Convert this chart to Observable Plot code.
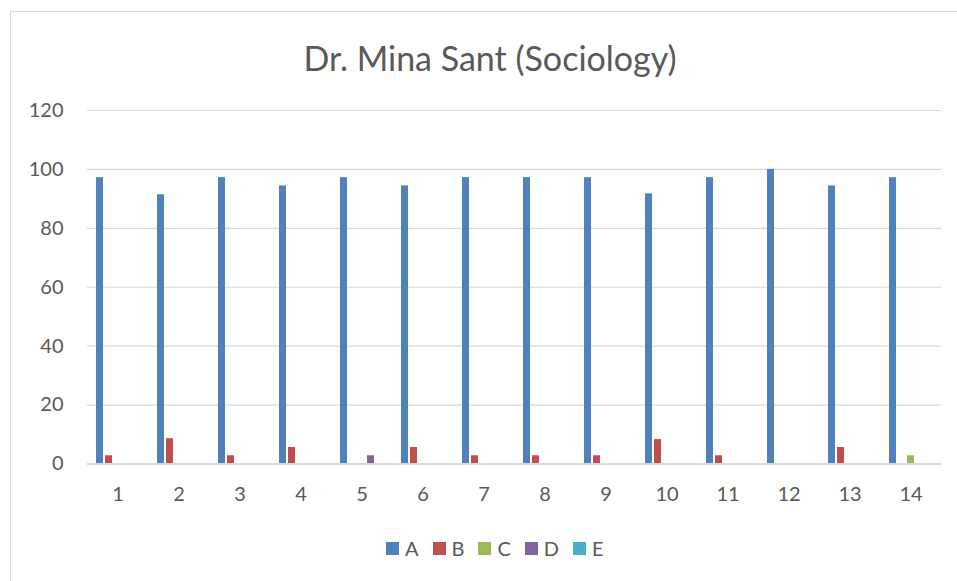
<!DOCTYPE html>
<html>
<head>
<meta charset="utf-8">
<script src="https://cdn.jsdelivr.net/npm/d3@7"></script>
<script src="https://cdn.jsdelivr.net/npm/@observablehq/plot@0.6"></script>
<style>
  html, body { margin: 0; padding: 0; background: #fff; }
  #wrap { position: relative; width: 957px; height: 581px; overflow: hidden; font-family: Lato, "Open Sans", sans-serif; }
  #frame { position: absolute; left: 10px; top: 11px; width: 990px; height: 600px; border: 1px solid #d9d9d9; box-sizing: border-box; }
  #title { position: absolute; left: 0; width: 980px; top: 38px; text-align: center; font-size: 34px; line-height: 1.2; color: #595959; }
  #chart { position: absolute; left: 0; top: 90px; }
  #legend { position: absolute; left: 386px; top: 536px; display: flex; gap: 0; font-size: 20px; color: #595959; }
  .item { display: flex; align-items: center; margin-right: 14px; }
  .sw { width: 13px; height: 13px; margin-right: 6px; }
</style>
</head>
<body>
<div id="wrap">
  <div id="frame"></div>
  <div id="title">Dr. Mina Sant (Sociology)</div>
  <div id="chart"></div>
  <div id="legend"></div>
</div>
<script>
const categories = ["1","2","3","4","5","6","7","8","9","10","11","12","13","14"];
const seriesNames = ["A","B","C","D","E"];
const seriesColors = ["#4f81bd","#c0504d","#9bbb59","#8064a2","#4bacc6"];
const valuesA = [97.2, 91.4, 97.2, 94.4, 97.2, 94.4, 97.2, 97.2, 97.2, 91.7, 97.2, 100, 94.4, 97.2];
const valuesB = [2.8, 8.6, 2.8, 5.6, 0, 5.6, 2.8, 2.8, 2.8, 8.3, 2.8, 0, 5.6, 0];
const valuesC = [0, 0, 0, 0, 0, 0, 0, 0, 0, 0, 0, 0, 0, 2.8];
const valuesD = [0, 0, 0, 0, 2.8, 0, 0, 0, 0, 0, 0, 0, 0, 0];
const valuesE = [0, 0, 0, 0, 0, 0, 0, 0, 0, 0, 0, 0, 0, 0];
const yTicks = [0, 20, 40, 60, 80, 100, 120];

const allSeries = [valuesA, valuesB, valuesC, valuesD, valuesE];
const rows = [];
categories.forEach((c, i) => {
  seriesNames.forEach((s, j) => {
    rows.push({cat: c, series: s, value: allSeries[j][i]});
  });
});

const chart = Plot.plot({
  width: 957,
  height: 430,
  marginLeft: 87,
  marginRight: 16,
  marginTop: 20,
  marginBottom: 56.5,
  style: {fontFamily: "Lato, 'Open Sans', sans-serif", fontSize: "20px", color: "#595959", background: "transparent"},
  fx: {domain: categories, padding: 0, label: null, tickSize: 0, tickPadding: 23},
  x: {domain: seriesNames, paddingInner: 0.2, paddingOuter: 0.8, axis: null},
  y: {domain: [0, 120], ticks: yTicks, label: null, tickSize: 0, tickPadding: 24},
  color: {domain: seriesNames, range: seriesColors},
  marks: [
    Plot.gridY(yTicks.filter(t => t > 0), {stroke: "#d9d9d9", strokeOpacity: 1, strokeWidth: 1.2}),
    Plot.barY(rows.filter(d => d.value > 0), {fx: "cat", x: "series", y: "value", fill: "series"}),
    Plot.ruleY([0], {stroke: "#d9d9d9", strokeWidth: 1.8})
  ]
});
document.getElementById("chart").appendChild(chart);

const legend = document.getElementById("legend");
seriesNames.forEach((s, j) => {
  const it = document.createElement("div");
  it.className = "item";
  const sw = document.createElement("div");
  sw.className = "sw";
  sw.style.background = seriesColors[j];
  const t = document.createElement("span");
  t.textContent = s;
  it.appendChild(sw); it.appendChild(t);
  legend.appendChild(it);
});
</script>
</body>
</html>
